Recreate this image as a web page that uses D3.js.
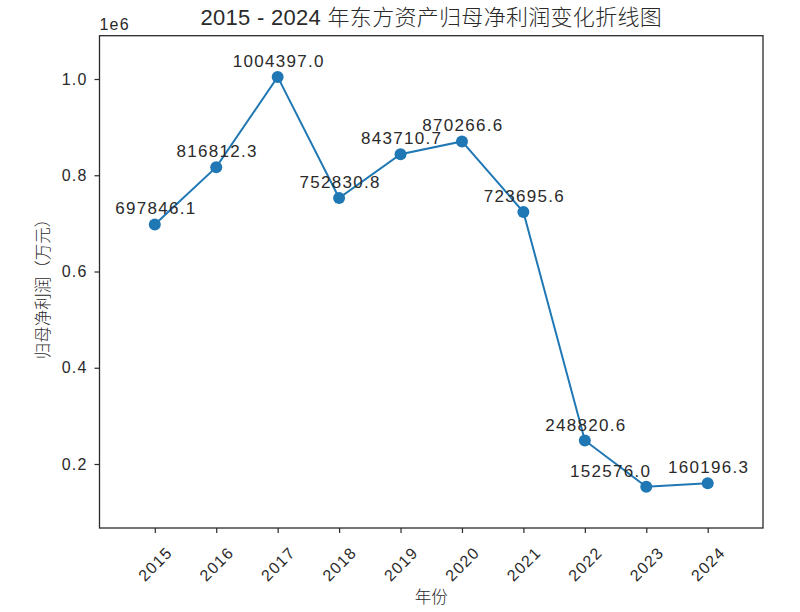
<!DOCTYPE html>
<html><head><meta charset="utf-8">
<script src="https://cdn.jsdelivr.net/npm/d3@7"></script>
<style>body{margin:0;background:#fff;} svg{display:block;}</style>
</head><body>
<svg id="chart" width="800" height="612"></svg>
<script>
const years = [2015, 2016, 2017, 2018, 2019, 2020, 2021, 2022, 2023, 2024];
const profits = [697846.1, 816812.3, 1004397.0, 752830.8, 843710.7, 870266.6, 723695.6, 248820.6, 152576.0, 160196.3];
const yTicks = [200000, 400000, 600000, 800000, 1000000];
const title = "2015 - 2024 年东方资产归母净利润变化折线图";
const xLabel = "年份";
const yLabel = "归母净利润（万元）";

const FONT = "'Liberation Sans', 'Noto Sans CJK SC', sans-serif";
const CJK = "'Noto Sans CJK SC', 'Liberation Sans', sans-serif";
const INK = "#2a2a2a";
const svg = d3.select("#chart");
const L = 99.5, R = 763, T = 35.7, B = 528;
const x = d3.scaleLinear().domain([2014.1, 2024.9]).range([L, R]);
const y = d3.scaleLinear().domain([67000, 1090000]).range([B, T]);
const color = "#1f77b4";

svg.append("rect").attr("width", 800).attr("height", 612).attr("fill", "#fff");

// axes
const xAxis = svg.append("g").attr("transform", `translate(0,${B})`)
  .call(d3.axisBottom(x).tickValues(years).tickFormat(d3.format("d")).tickSize(5));
xAxis.selectAll(".tick text")
  .attr("font-family", FONT).attr("font-size", 16).attr("letter-spacing", 1.2).attr("fill", INK)
  .attr("text-anchor", "middle").attr("dominant-baseline", "central")
  .attr("x", 0).attr("y", 0).attr("dy", null)
  .attr("transform", "translate(0,36) rotate(-45)");
const yAxis = svg.append("g").attr("transform", `translate(${L},0)`)
  .call(d3.axisLeft(y).tickValues(yTicks).tickFormat(d => (d/1e6).toFixed(1)).tickSize(5).tickPadding(7));
yAxis.selectAll("text").attr("font-family", FONT).attr("font-size", 16).attr("letter-spacing", 1.2).attr("fill", INK);
[xAxis, yAxis].forEach(g => {
  g.select(".domain").remove();
  g.selectAll("line").attr("stroke", INK).attr("stroke-width", 1.2);
});

// frame
svg.append("rect").attr("x", L).attr("y", T).attr("width", R - L).attr("height", B - T)
  .attr("fill", "none").attr("stroke", INK).attr("stroke-width", 1.3);

// line
const data = years.map((yr, i) => ({yr, v: profits[i]}));
svg.append("path").datum(data)
  .attr("fill", "none").attr("stroke", color).attr("stroke-width", 2)
  .attr("d", d3.line().x(d => x(d.yr)).y(d => y(d.v)));
svg.selectAll("circle.pt").data(data).join("circle")
  .attr("cx", d => x(d.yr)).attr("cy", d => y(d.v)).attr("r", 6).attr("fill", color);

// annotations (a label that would collide with its right neighbour is right-aligned)
const ann = svg.selectAll("text.ann").data(data).join("text")
  .attr("class", "ann")
  .attr("x", d => x(d.yr) + 1).attr("y", d => y(d.v) - 10)
  .attr("text-anchor", "middle").attr("font-family", FONT).attr("font-size", 17)
  .attr("letter-spacing", 1.3).attr("fill", INK)
  .text(d => d.v.toFixed(1));
const nodes = ann.nodes();
nodes.forEach((n, i) => {
  if (i + 1 >= nodes.length) return;
  const a = n.getBBox(), b = nodes[i + 1].getBBox();
  const overlapX = a.x + a.width > b.x && b.x + b.width > a.x;
  const overlapY = a.y + a.height > b.y && b.y + b.height > a.y;
  if (overlapX && overlapY && i + 1 === nodes.length - 1) {
    d3.select(n).attr("text-anchor", "end").attr("x", x(data[i].yr) + 5);
  }
});

// offset text
svg.append("text").attr("x", L).attr("y", T - 6).attr("font-family", FONT).attr("font-size", 16)
  .attr("letter-spacing", 1.2).attr("fill", INK).text("1e6");

// title
svg.append("text").attr("x", (L + R) / 2).attr("y", 25).attr("text-anchor", "middle")
  .attr("font-family", FONT).attr("font-size", 22).attr("font-weight", 300).attr("letter-spacing", 0.3)
  .attr("fill", INK).text(title);

// axis labels
svg.append("text").attr("x", (L + R) / 2).attr("y", 603).attr("text-anchor", "middle")
  .attr("font-family", CJK).attr("font-size", 16.5).attr("font-weight", 300).attr("fill", INK).text(xLabel);
svg.append("text").attr("transform", `translate(49,285) rotate(-90)`).attr("text-anchor", "middle")
  .attr("font-family", CJK).attr("font-size", 16.5).attr("font-weight", 300).attr("fill", INK).text(yLabel);
</script>
</body></html>
